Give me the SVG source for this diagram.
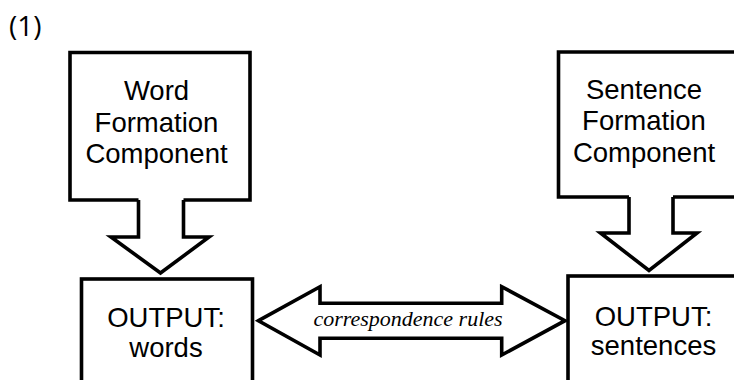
<svg xmlns="http://www.w3.org/2000/svg" width="734" height="380" viewBox="0 0 734 380">
  <style>
    .outline { fill: none; stroke: #000; stroke-width: 3.6; stroke-linejoin: miter; stroke-miterlimit: 10; }
    .box { fill: #fff; stroke: #000; stroke-width: 3.6; }
    .block { fill: #fff; stroke: #000; stroke-width: 3.6; stroke-linejoin: miter; stroke-miterlimit: 10; }
    .lbl { font-family: "Liberation Sans", Arial, sans-serif; font-size: 27.5px; fill: #000; text-anchor: middle; }
    .rule { font-family: "Liberation Serif", "Times New Roman", serif; font-style: italic; font-size: 22px; fill: #000; text-anchor: middle; }
    .num { font-family: "Open Sans", "Noto Sans", sans-serif; font-size: 28px; fill: #000; }
  </style>
  <rect width="734" height="380" fill="#fff"/>

  <text class="num" x="9" y="36">(1)</text>

  <!-- component boxes; the bottom edge opens where the block arrow leaves -->
  <g id="word-formation">
    <path class="outline" d="M138.5,200 H70 V52.5 H250 V200 H183.5"/>
    <text class="lbl" x="156.5" y="100">Word</text>
    <text class="lbl" x="156.5" y="131.5">Formation</text>
    <text class="lbl" x="156.5" y="163">Component</text>
  </g>

  <g id="sentence-formation">
    <path class="outline" d="M629,197 H558.5 V52 H738.5 V197 H673"/>
    <text class="lbl" x="644" y="98.5">Sentence</text>
    <text class="lbl" x="644" y="130">Formation</text>
    <text class="lbl" x="644" y="161.5">Component</text>
  </g>

  <g id="output-words">
    <rect class="box" x="81.5" y="279" width="171" height="130"/>
    <text class="lbl" x="166" y="327">OUTPUT:</text>
    <text class="lbl" x="166" y="357">words</text>
  </g>

  <g id="output-sentences">
    <rect class="box" x="568" y="276" width="171" height="130"/>
    <text class="lbl" x="653.5" y="325.5">OUTPUT:</text>
    <text class="lbl" x="653.5" y="355">sentences</text>
  </g>

  <!-- block arrows -->
  <g id="connectors">
    <path class="outline" d="M138.5,200 V237 H111 L160.5,273 L209,237 H183.5 V200"/>
    <path class="outline" d="M629,197 V233 H600.5 L649,270.5 L697,233 H673 V197"/>
    <path class="block" d="M258.5,320.7 L320,286.7 V303.3 H501.7 V286.7 L565,320.7 L501.7,355 V338.3 H320 V355 Z"/>
    <text class="rule" x="408" y="325.7">correspondence rules</text>
  </g>
</svg>
